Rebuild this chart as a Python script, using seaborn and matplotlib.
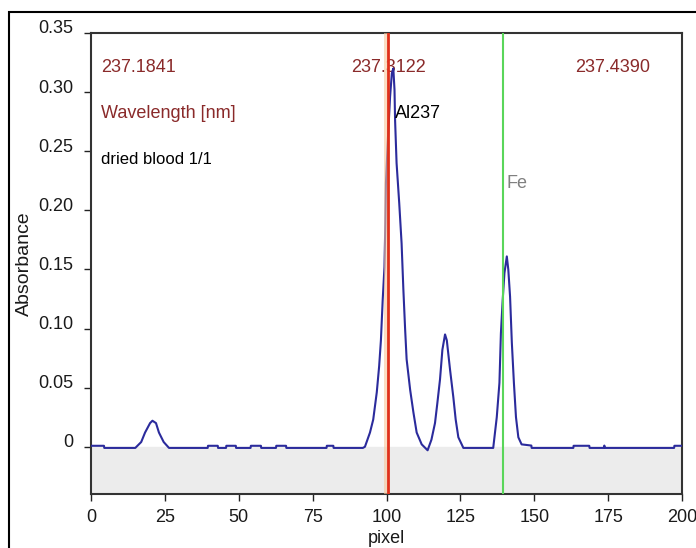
import matplotlib
matplotlib.use('Agg')
import matplotlib.pyplot as plt
import matplotlib.transforms as mtransforms
from matplotlib.patches import Rectangle
import pandas as pd
import seaborn as sns

# spectrum (pixel position -> absorbance)
pixel = [0, 4.4, 4.5, 15, 17, 18.3, 20, 20.8, 22, 23, 24.6, 26.4,
         39.5, 39.6, 42.9, 43, 45.7, 45.8, 49, 49.1, 54, 54.1, 57.5, 57.6,
         62.6, 62.7, 66, 66.1, 79.7, 79.8, 82, 82.1, 92,
         92.7, 94.4, 95.5, 96.7, 97.5, 98.1, 98.7, 99.3, 99.6, 99.8, 100.5,
         101.2, 101.8, 102.3, 102.7, 102.9, 103.4, 104.3, 105.1, 105.7, 106.3,
         106.8, 108.0, 109.1, 110.2, 111.9, 113.9, 115.2, 116.4, 117.2, 118.1,
         118.9, 119.8, 120.4, 121.5, 122.6, 123.4, 124.3, 126.0, 136.1, 137.3,
         138.2, 138.7, 139.3, 139.9, 140.7, 141.2, 141.8, 142.4, 143.1, 143.8,
         144.6, 145.7, 149, 149.1, 163.2, 163.3, 168.6, 168.7, 173.5, 173.7,
         173.9, 197.3, 197.4, 200]
absorbance = [0.0008, 0.0008, -0.001, -0.001, 0.004, 0.012, 0.020, 0.022, 0.020, 0.012, 0.004, -0.001,
              -0.001, 0.0008, 0.0008, -0.001, -0.001, 0.0008, 0.0008, -0.001, -0.001, 0.0008, 0.0008, -0.001,
              -0.001, 0.0008, 0.0008, -0.001, -0.001, 0.0008, 0.0008, -0.001, -0.001,
              0.0, 0.012, 0.023, 0.046, 0.068, 0.090, 0.124, 0.152, 0.189, 0.223, 0.262,
              0.296, 0.316, 0.320, 0.302, 0.276, 0.240, 0.206, 0.172, 0.133, 0.099,
              0.074, 0.048, 0.029, 0.012, 0.002, -0.003, 0.006, 0.020, 0.037, 0.057,
              0.082, 0.095, 0.090, 0.065, 0.042, 0.023, 0.008, -0.001, -0.001, 0.025,
              0.054, 0.096, 0.124, 0.147, 0.161, 0.150, 0.127, 0.088, 0.054, 0.025,
              0.008, 0.002, 0.001, -0.001, -0.001, 0.0008, 0.0008, -0.001, -0.001, 0.001,
              -0.001, -0.001, 0.0008, 0.0008]

xticks = [0, 25, 50, 75, 100, 125, 150, 175, 200]
yticks = [0, 0.05, 0.10, 0.15, 0.20, 0.25, 0.30, 0.35]
ytick_labels = ['0', '0.05', '0.10', '0.15', '0.20', '0.25', '0.30', '0.35']

al_line = 100.6
fe_line = 139.5
wavelengths = ['237.1841', '237.3122', '237.4390']

sns.set_style('white')
plt.rcParams['font.family'] = ['Liberation Sans', 'DejaVu Sans']
plt.rcParams['font.size'] = 13

fig = plt.figure(figsize=(6.96, 5.48), dpi=100)
ax = fig.add_axes([0.1307, 0.0985, 0.8493, 0.8413])

# outer frame of the panel
fig.patches.append(Rectangle((9 / 696, -0.1), 1.2, (548 - 12) / 548 + 0.1,
                             transform=fig.transFigure, fill=False,
                             edgecolor='black', linewidth=1.5))

ax.axhspan(-0.04, 0, color='#ececec', zorder=0)

df = pd.DataFrame({'pixel': pixel, 'Absorbance': absorbance})
sns.lineplot(data=df, x='pixel', y='Absorbance', color='#2b2b9c', linewidth=1.5,
             sort=False, ax=ax, zorder=3)

ax.axvspan(al_line - 1.5, al_line, color='#f9c79a', alpha=0.6, zorder=4, lw=0)
ax.axvline(al_line, color='#e0301a', linewidth=2, zorder=5)
ax.axvline(fe_line, color='#5ad65a', linewidth=1.5, zorder=5)

ax.set_xlim(0, 200)
ax.set_ylim(-0.04, 0.35)
ax.set_xticks(xticks)
ax.set_yticks(yticks)
ax.set_yticklabels(ytick_labels)
ax.tick_params(direction='out', length=5, width=1, color='#222222',
               labelsize=13, labelcolor='#1a1a1a')
ax.tick_params(axis='y', pad=8)
ax.tick_params(axis='x', pad=6)
ax.tick_params(left=True, bottom=True)

# y tick labels sit a bit above their ticks in the original
offset = mtransforms.ScaledTranslation(0, 0.06, fig.dpi_scale_trans)
for lab in ax.get_yticklabels():
    lab.set_transform(lab.get_transform() + offset)

for side in ['left', 'right', 'top', 'bottom']:
    ax.spines[side].set_color('#333333')
    ax.spines[side].set_linewidth(1.5)

ax.set_xlabel('pixel', fontsize=13, color='#1a1a1a')
ax.set_ylabel('Absorbance', fontsize=14, color='#1a1a1a')
ax.xaxis.set_label_coords(0.5, -0.078)
ax.yaxis.set_label_coords(-0.098, 0.5)

dark_red = '#8a2a2a'
ax.text(3.4, 0.321, wavelengths[0], color=dark_red, va='center', ha='left', fontsize=13)
ax.text(al_line, 0.321, wavelengths[1], color=dark_red, va='center', ha='center', fontsize=13, zorder=2)
ax.text(189.2, 0.321, wavelengths[2], color=dark_red, va='center', ha='right', fontsize=13)
ax.text(3.4, 0.282, 'Wavelength [nm]', color=dark_red, va='center', ha='left', fontsize=13)
ax.text(3.4, 0.243, 'dried blood 1/1', color='black', va='center', ha='left', fontsize=12)
ax.text(102.9, 0.282, 'Al237', color='black', va='center', ha='left', fontsize=13, zorder=6)
ax.text(140.6, 0.223, 'Fe', color='#808080', va='center', ha='left', fontsize=13)

fig.savefig('out.png', dpi=100)
